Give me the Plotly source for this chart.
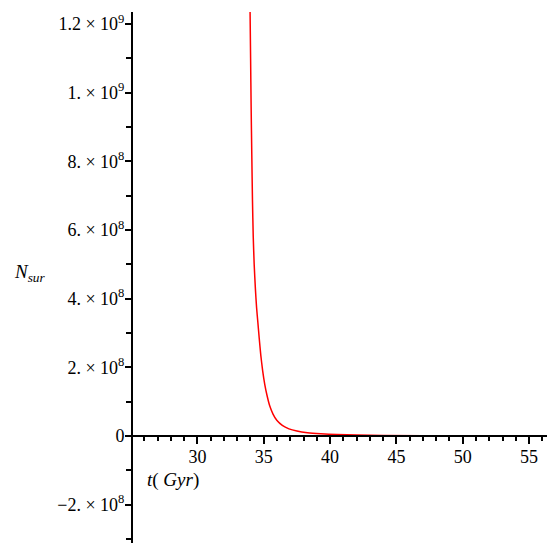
import plotly.graph_objects as go

# --- data ---
t_gyr = [33.97, 34.01, 34.05, 34.10, 34.15, 34.21, 34.28, 34.37, 34.46, 34.56,
         34.66, 34.78, 34.92, 35.08, 35.25, 35.45, 35.70, 36.00, 36.40, 36.90,
         37.50, 38.30, 39.30, 40.50, 42.00, 44.00, 47.00]
n_sur = [1.24e9, 1.10e9, 9.6e8, 8.2e8, 6.9e8, 5.8e8, 5.0e8, 4.3e8, 3.75e8, 3.3e8,
         2.85e8, 2.35e8, 1.9e8, 1.5e8, 1.18e8, 8.8e7, 6.4e7, 4.5e7, 3.1e7, 2.1e7,
         1.45e7, 9.5e6, 6.5e6, 4.5e6, 3.0e6, 1.8e6, 1.0e6]

x_ticks = [30, 35, 40, 45, 50, 55]
y_ticks = [-2e8, 0, 2e8, 4e8, 6e8, 8e8, 1e9, 1.2e9]
y_labels = ["\u22122. \u00d7 10<sup>8</sup>", "0", "2. \u00d7 10<sup>8</sup>",
            "4. \u00d7 10<sup>8</sup>", "6. \u00d7 10<sup>8</sup>",
            "8. \u00d7 10<sup>8</sup>", "1. \u00d7 10<sup>9</sup>",
            "1.2 \u00d7 10<sup>9</sup>"]

x_range = [25.145, 56.43]
y_range = [-3.115e8, 1.235e9]

FONT = "Liberation Serif, Times New Roman, serif"

fig = go.Figure()
fig.add_trace(go.Scatter(x=t_gyr, y=n_sur, mode="lines",
                         line=dict(color="#ff0000", width=1.5,
                                   shape="spline", smoothing=0.6),
                         showlegend=False, hoverinfo="skip"))

# x axis sits on y = 0
zero_pos = (0 - y_range[0]) / (y_range[1] - y_range[0])

# page body adds ~8px offset, so figure is a bit smaller than the window
fig.update_layout(
    width=547, height=547,
    margin=dict(l=125, r=7, t=4, b=12),
    paper_bgcolor="white", plot_bgcolor="white",
    font=dict(family=FONT, size=18, color="black"),
    xaxis=dict(range=x_range, tickvals=x_ticks, showgrid=False, zeroline=False,
               showline=True, linecolor="black", linewidth=2,
               anchor="free", position=zero_pos,
               ticks="outside", ticklen=7, tickwidth=2, tickcolor="black",
               minor=dict(dtick=1, tick0=0, ticks="outside", ticklen=4,
                          tickwidth=1.5, tickcolor="black"),
               ticklabelstandoff=-3,
               tickfont=dict(family=FONT, size=18)),
    yaxis=dict(range=y_range, tickvals=y_ticks, ticktext=y_labels,
               showgrid=False, zeroline=False,
               showline=True, linecolor="black", linewidth=2,
               ticks="outside", ticklen=6, tickwidth=2, tickcolor="black",
               minor=dict(dtick=1e8, tick0=0, ticks="outside", ticklen=5,
                          tickwidth=1.5, tickcolor="black"),
               ticklabelstandoff=-3,
               tickfont=dict(family=FONT, size=18)),
    annotations=[
        dict(text="<i>t</i>( <i>Gyr</i>)", xref="paper", yref="paper",
             x=0.029, y=0.1186, xanchor="left", yanchor="middle",
             showarrow=False, font=dict(family=FONT, size=19)),
        dict(text="<i>N</i><sub><i>sur</i></sub>", xref="paper", yref="paper",
             x=-0.2916, y=0.508, xanchor="left", yanchor="middle",
             showarrow=False, font=dict(family=FONT, size=19)),
    ],
)

fig.write_html("out.html")
